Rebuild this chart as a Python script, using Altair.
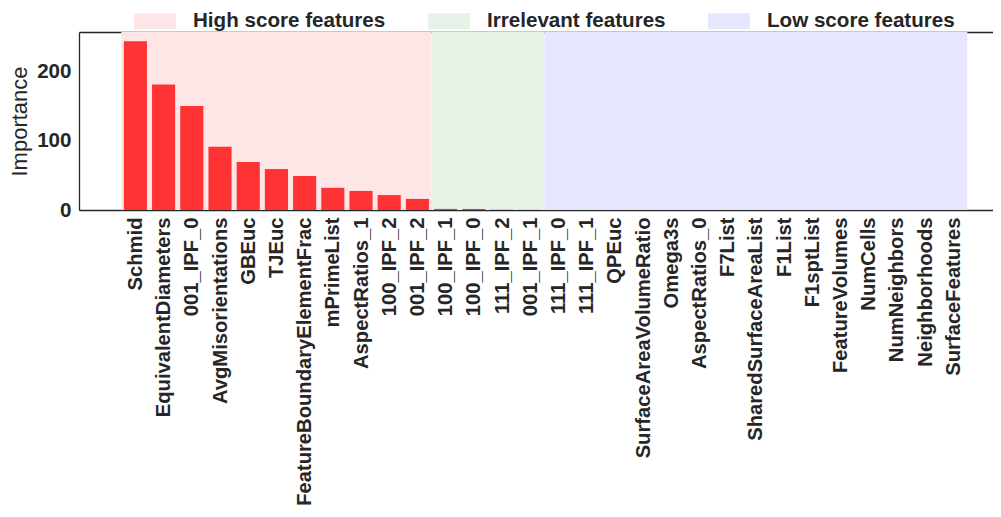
import json
import altair as alt
import pandas as pd

features = [
    "Schmid", "EquivalentDiameters", "001_IPF_0", "AvgMisorientations", "GBEuc", "TJEuc",
    "FeatureBoundaryElementFrac", "mPrimeList", "AspectRatios_1", "100_IPF_2", "001_IPF_2",
    "100_IPF_1", "100_IPF_0", "111_IPF_2", "001_IPF_1",
    "111_IPF_0", "111_IPF_1", "QPEuc", "SurfaceAreaVolumeRatio", "Omega3s", "AspectRatios_0",
    "F7List", "SharedSurfaceAreaList", "F1List", "F1sptList", "FeatureVolumes", "NumCells",
    "NumNeighbors", "Neighborhoods", "SurfaceFeatures",
]
importance = [
    243, 181, 150, 91, 69, 59, 49, 32, 27.5, 21.5, 16,
    1.6, 1.5, 0.4, 0.2,
    0, 0, 0, 0, 0, 0, 0, 0, 0, 0, 0, 0, 0, 0, 0,
]
group_names = ["High score features", "Irrelevant features", "Low score features"]
group_sizes = [11, 4, 15]
group_colors = ["#ffe6e6", "#e6f2e6", "#e6e6ff"]
y_ticks = [0, 100, 200]

groups = []
for name, n in zip(group_names, group_sizes):
    groups += [name] * n

df = pd.DataFrame({
    "feature": features,
    "importance": importance,
    "group": groups,
    "idx": list(range(len(features))),
})

X_MIN, X_MAX = -2, 30.41
Y_MAX = 256.5
BAR_HALF = 0.41
TEXT = "#262626"
FONT = "Liberation Sans"

xscale = alt.Scale(domain=[X_MIN, X_MAX], nice=False, zero=False)
yscale = alt.Scale(domain=[0, Y_MAX], nice=False, zero=True)
label_expr = json.dumps(features) + "[datum.value]"

spans = (
    alt.Chart(df)
    .transform_aggregate(lo="min(idx)", hi="max(idx)", groupby=["group"])
    .transform_calculate(x0="datum.lo - 0.5", x1="datum.hi + 0.5")
    .mark_rect()
    .encode(
        x=alt.X(
            "x0:Q",
            scale=xscale,
            axis=alt.Axis(
                orient="bottom",
                values=list(range(len(features))),
                labelExpr=label_expr,
                labelAngle=270,
                labelAlign="right",
                labelBaseline="middle",
                labelPadding=7,
                labelFontSize=20.2,
                labelFontWeight="bold",
                labelColor=TEXT,
                labelFont=FONT,
                labelLimit=400,
                labelOverlap=False,
                ticks=False,
                grid=False,
                domain=True,
                domainColor=TEXT,
                domainWidth=1.3,
                title=None,
            ),
        ),
        x2="x1:Q",
        color=alt.Color(
            "group:N",
            scale=alt.Scale(domain=group_names, range=group_colors),
            legend=alt.Legend(
                title=None,
                orient="none",
                legendX=55,
                legendY=-32,
                direction="horizontal",
                symbolType="M-1,-0.38L1,-0.38L1,0.38L-1,0.38Z",
                symbolSize=1764,
                symbolStrokeWidth=0,
                symbolOpacity=1,
                labelFontSize=20.6,
                labelFontWeight="bold",
                labelFont=FONT,
                labelColor=TEXT,
                labelOffset=17,
                columnPadding=42,
                labelLimit=400,
                padding=0,
            ),
        ),
    )
)

bars = (
    alt.Chart(df)
    .transform_calculate(b0=f"datum.idx - {BAR_HALF}", b1=f"datum.idx + {BAR_HALF}")
    .mark_rect(color="#ff3333")
    .encode(
        x=alt.X(
            "b0:Q",
            scale=xscale,
            axis=alt.Axis(orient="top", labels=False, ticks=False, grid=False,
                          domain=True, domainColor=TEXT, domainWidth=1.3, title=None),
        ),
        x2="b1:Q",
        y=alt.Y(
            "importance:Q",
            scale=yscale,
            axis=alt.Axis(
                values=y_ticks,
                labelFontSize=20.6,
                labelFontWeight="bold",
                labelColor=TEXT,
                labelFont=FONT,
                labelPadding=8,
                ticks=False,
                grid=False,
                domain=True,
                domainColor=TEXT,
                domainWidth=1.3,
                title="Importance",
                titleFontSize=22,
                titleFontWeight="normal",
                titleColor=TEXT,
                titleFont=FONT,
                titlePadding=5,
            ),
        ),
        y2=alt.datum(0),
    )
)

chart = (
    alt.layer(spans, bars)
    .resolve_axis(x="independent")
    .properties(
        width=914,
        height=178,
        padding={"left": 71, "top": 24, "right": 0, "bottom": 299},
        autosize=alt.AutoSizeParams(type="none"),
    )
    .configure_view(strokeWidth=0)
    .configure(font=FONT)
)

chart.save("out.html", embed_options={"renderer": "svg", "actions": False})
